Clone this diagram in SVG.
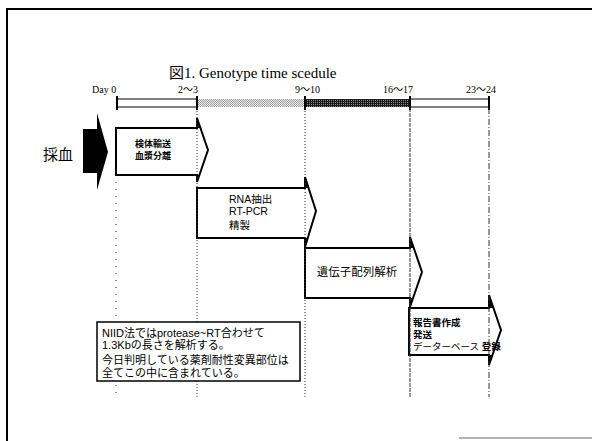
<svg xmlns="http://www.w3.org/2000/svg" width="592" height="441" viewBox="0 0 592 441">
<defs>
<pattern id="light" width="2" height="2" patternUnits="userSpaceOnUse">
<rect width="2" height="2" fill="#e8e8e8"/>
<rect x="0" y="0" width="1" height="1" fill="#9a9a9a"/>
<rect x="1" y="1" width="1" height="1" fill="#a8a8a8"/>
</pattern>
<pattern id="dark" width="2" height="2" patternUnits="userSpaceOnUse">
<rect width="2" height="2" fill="#1a1a1a"/>
<rect x="1" y="0" width="1" height="1" fill="#8a8a8a"/>
</pattern>
<style>
.box{fill:#fff;stroke:#000;stroke-width:2;stroke-linejoin:miter}
.wing{fill:#000}
.t{font-family:"Liberation Sans","Noto Sans CJK JP",sans-serif;fill:#000}
.s{font-family:"Liberation Serif","Noto Sans CJK JP",serif;fill:#000}
.tick{stroke:#000;stroke-width:2}
.g{fill:none;stroke:#333;stroke-width:1}
</style>
</defs>
<rect width="592" height="441" fill="#fff"/>
<g id="frame">
<line x1="7" y1="9" x2="592" y2="9" stroke="#000" stroke-width="2"/>
<line x1="7" y1="8" x2="7" y2="441" stroke="#000" stroke-width="2"/>
<line x1="459" y1="438" x2="592" y2="438" stroke="#999" stroke-width="1.5"/>
</g>
<text id="title" class="s" x="169" y="78" font-size="15">図1. Genotype time scedule</text>
<g id="timeline">
<rect x="117" y="99" width="80" height="8" fill="#fff" stroke="#000" stroke-width="1"/>
<rect x="197" y="99" width="108" height="8" fill="url(#light)"/>
<rect x="305" y="99" width="105" height="8" fill="url(#dark)"/>
<rect x="410" y="99" width="79" height="8" fill="#fff" stroke="#000" stroke-width="1"/>
<line class="tick" x1="117" y1="96" x2="117" y2="110"/>
<line class="tick" x1="197" y1="96" x2="197" y2="110"/>
<line class="tick" x1="305" y1="96" x2="305" y2="110"/>
<line class="tick" x1="410" y1="96" x2="410" y2="110"/>
<line class="tick" x1="489" y1="96" x2="489" y2="110"/>
<text class="s" x="92" y="93" font-size="10">Day 0</text>
<text class="s" x="178" y="93" font-size="10">2〜3</text>
<text class="s" x="295" y="93" font-size="10">9〜10</text>
<text class="s" x="383" y="93" font-size="10">16〜17</text>
<text class="s" x="466" y="93" font-size="10">23〜24</text>
</g>
<g id="blood">
<path d="M83,129 H97 V113 L108,152 L97,190 V173 H83 Z" fill="#000"/>
<text class="t" x="43" y="160" font-size="15">採血</text>
</g>
<g id="step1">
<path class="box" d="M116,128 H197 V118 L208,150 L197,182 V175 H116 Z"/>
<path class="wing" d="M197,118 L200.5,128 H197 Z M197,182 L199.5,175 H197 Z"/>
<text class="t" x="135" y="147" font-size="9" font-weight="bold">検体輸送</text>
<text class="t" x="135" y="159" font-size="9" font-weight="bold">血漿分離</text>
</g>
<g id="step2">
<path class="box" d="M197,188 H305 V177 L316,211 L305,247 V238 H197 Z"/>
<path class="wing" d="M305,177 L308.5,188 H305 Z M305,247 L308,238 H305 Z"/>
<text class="t" x="229" y="203" font-size="10.5">RNA抽出</text>
<text class="t" x="229" y="215" font-size="10.5">RT-PCR</text>
<text class="t" x="229" y="229" font-size="10.5">精製</text>
</g>
<g id="step3">
<path class="box" d="M305,248 H410 V237 L422,272 L410,307 V298 H305 Z"/>
<path class="wing" d="M410,237 L413.8,248 H410 Z M410,307 L413,298 H410 Z"/>
<text class="t" x="357" y="276" font-size="11.5" text-anchor="middle">遺伝子配列解析</text>
</g>
<g id="step4">
<path class="box" d="M409,308 H489 V295 L501,330 L489,365 V355 H409 Z"/>
<path class="wing" d="M489,295 L493.5,308 H489 Z M489,365 L492.4,355 H489 Z"/>
<text class="t" x="413" y="326" font-size="9.5" font-weight="bold">報告書作成</text>
<text class="t" x="413" y="338" font-size="9.5" font-weight="bold">発送</text>
<text class="t" x="413" y="350" font-size="9.5">データーベース <tspan font-weight="bold">登録</tspan></text>
</g>
<g id="connectors">
<line class="g" x1="116" y1="182" x2="116" y2="397" stroke-dasharray="1 6"/>
<line class="g" x1="197" y1="108" x2="197" y2="397" stroke-dasharray="1 2"/>
<line class="g" x1="305" y1="108" x2="305" y2="397" stroke-dasharray="1 2"/>
<line class="g" x1="410" y1="108" x2="410" y2="397" stroke-dasharray="4 1"/>
<line class="g" x1="489" y1="108" x2="489" y2="397" stroke-dasharray="6 2 1 2"/>
</g>
<g id="note">
<rect x="97" y="322" width="203" height="59" fill="#fff" stroke="#000" stroke-width="1.5"/>
<text class="t" x="102" y="337" font-size="11">NIID法ではprotease~RT合わせて</text>
<text class="t" x="102" y="349" font-size="11">1.3Kbの長さを解析する。</text>
<text class="t" x="102" y="364" font-size="11">今日判明している薬剤耐性変異部位は</text>
<text class="t" x="102" y="377" font-size="11">全てこの中に含まれている。</text>
</g>
</svg>
